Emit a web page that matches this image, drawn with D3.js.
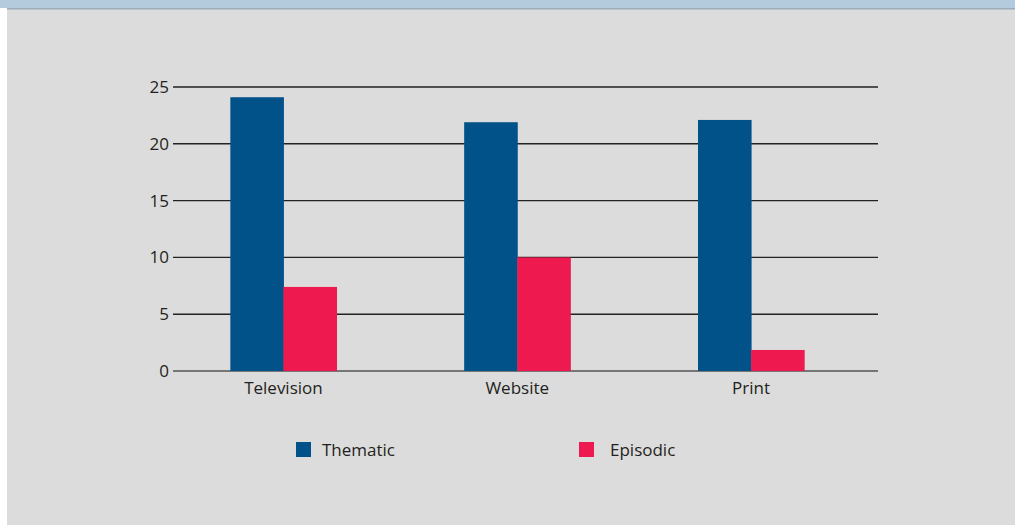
<!DOCTYPE html>
<html><head><meta charset="utf-8">
<script src="https://cdn.jsdelivr.net/npm/d3@7/dist/d3.min.js"></script>
<style>body{margin:0;background:#fff}svg{display:block}</style>
</head><body><svg id="c" width="1015" height="525"></svg>
<script>
const categories = ["Television", "Website", "Print"];
const seriesNames = ["Thematic", "Episodic"];
const thematic = [24.1, 21.9, 22.1];
const episodic = [7.4, 10.0, 1.85];
const yTicks = [0, 5, 10, 15, 20, 25];
const colors = ["#005288", "#ee194e"];

const svg = d3.select("#c");
const font = "'Open Sans', sans-serif";
svg.append("rect").attr("x",7).attr("y",0).attr("width",1008).attr("height",525).attr("fill","#dcdcdc");
svg.append("rect").attr("x",0).attr("y",0).attr("width",1015).attr("height",8).attr("fill","#b3cbdc");
svg.append("rect").attr("x",7).attr("y",8).attr("width",1008).attr("height",1.5).attr("fill","#9eabb8");

const y = d3.scaleLinear().domain([0,25]).range([371,87]);
const x = d3.scaleBand().domain(categories).range([166.5,868]).paddingInner(0.546).paddingOuter(0.273);
const xs = d3.scaleBand().domain(seriesNames).range([0, x.bandwidth()]);

const gx0 = 173, gx1 = 878;
const grid = svg.append("g");
grid.selectAll("line").data(yTicks).join("line")
  .attr("x1",gx0).attr("x2",gx1)
  .attr("y1",d=>y(d)).attr("y2",d=>y(d))
  .attr("stroke",d=>d===0?"#555":"#222").attr("stroke-width",1.4);

const yAxis = svg.append("g").attr("transform",`translate(${gx0},0)`)
  .call(d3.axisLeft(y).tickValues(yTicks).tickSize(0).tickPadding(4));
yAxis.select(".domain").remove();
yAxis.selectAll("text").attr("font-family",font).attr("font-size",17).attr("fill","#231f20");

const data = [thematic, episodic];
seriesNames.forEach((s,i)=>{
  svg.append("g").selectAll("rect").data(categories).join("rect")
    .attr("x",c=>x(c)+xs(s)).attr("width",xs.bandwidth()+0.5)
    .attr("y",(c,j)=>y(data[i][j])).attr("height",(c,j)=>y(0)-y(data[i][j]))
    .attr("fill",colors[i]);
});

const xAxis = svg.append("g").attr("transform",`translate(0,${y(0)})`)
  .call(d3.axisBottom(x).tickSize(0).tickPadding(11));
xAxis.select(".domain").remove();
xAxis.selectAll("text").attr("font-family",font).attr("font-size",17).attr("fill","#231f20");

const legX = [296, 579];
const legTextX = [322, 610];
const leg = svg.append("g");
seriesNames.forEach((s,i)=>{
  leg.append("rect").attr("x",legX[i]).attr("y",442).attr("width",15).attr("height",15).attr("fill",colors[i]);
  leg.append("text").attr("x",legTextX[i]).attr("y",450).attr("dy","0.35em")
    .attr("font-family",font).attr("font-size",17).attr("fill","#231f20").text(s);
});
</script></body></html>
